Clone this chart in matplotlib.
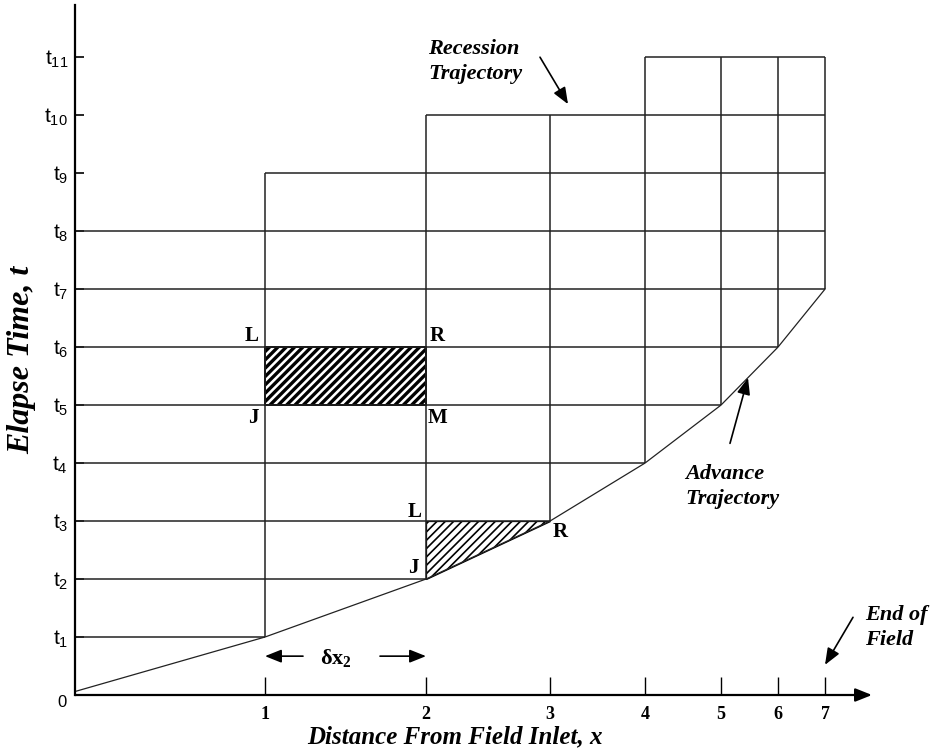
import matplotlib
matplotlib.use("Agg")
import matplotlib.pyplot as plt

# distance stations (tick positions) and their labels
x_pos = [0, 1.90, 3.51, 4.75, 5.70, 6.46, 7.03, 7.50]
x_labels = ["1", "2", "3", "4", "5", "6", "7"]
t_levels = list(range(1, 12))
t_labels = ["$\\mathregular{t_{%d}}$" % k for k in t_levels]

# advance trajectory: time when water reaches each station
adv_t = [0.06, 1, 2, 3, 4, 5, 6, 7]

# grid: each time line runs between two stations (index into x_pos)
row_start = [0, 0, 0, 0, 0, 0, 0, 0, 1, 2, 4]
row_end = [1, 2, 3, 4, 5, 6, 7, 7, 7, 7, 7]
# each station line runs from advance time up to recession time
col_top = [9, 10, 10, 11, 11, 11, 11]

serif = "Liberation Serif"
sans = "Liberation Sans"

fig = plt.figure(figsize=(9.42, 7.51), dpi=100)
ax = fig.add_axes([75 / 942, 56 / 751, 800 / 942, 690 / 751])
ax.set_xlim(0, 8.0)
ax.set_ylim(0, 11.9)

lc = "#222222"
for k, t in enumerate(t_levels):
    ax.hlines(t, x_pos[row_start[k]], x_pos[row_end[k]], color=lc, lw=1.1)
for k in range(1, 8):
    ax.vlines(x_pos[k], adv_t[k], col_top[k - 1], color=lc, lw=1.1)

ax.plot(x_pos, adv_t, color=lc, lw=0.9)

# hatched cells
rect = ax.fill([x_pos[1], x_pos[2], x_pos[2], x_pos[1]], [5, 5, 6, 6],
               facecolor="white", edgecolor="black", hatch="////", lw=1.4)[0]
tri = ax.fill([x_pos[2], x_pos[2], x_pos[3]], [2, 3, 3],
              facecolor="white", edgecolor="black", hatch="////", lw=0.9)[0]
if hasattr(rect, "set_hatch_linewidth"):
    rect.set_hatch_linewidth(2.4)
    tri.set_hatch_linewidth(1.2)

# axes styling
for s in ["top", "right", "bottom"]:
    ax.spines[s].set_visible(False)
ax.spines["left"].set_linewidth(1.6)
ax.annotate("", xy=(7.97, 0), xytext=(0, 0), annotation_clip=False,
            arrowprops=dict(arrowstyle="-|>,head_length=1.0,head_width=0.4",
                            lw=1.6, color="black", shrinkA=0, shrinkB=0))

ax.set_xticks(x_pos[1:])
ax.set_xticklabels(x_labels, fontfamily=serif, fontweight="bold", fontsize=13)
ax.tick_params(axis="x", direction="in", length=13, width=1, pad=8)
ax.set_yticks(t_levels)
ax.set_yticklabels(t_labels, fontfamily=sans, fontsize=15)
ax.tick_params(axis="y", direction="in", length=6.5, width=1.2, pad=5)
ax.annotate("0", xy=(0, 0), xytext=(-9, -5.5), textcoords="offset points",
            ha="center", va="center", fontfamily=sans, fontsize=12)

ax.set_xlabel("Distance From Field Inlet, x", fontfamily=serif,
              fontweight="bold", fontstyle="italic", fontsize=18)
ax.xaxis.set_label_coords(0.475, -0.061)
ax.xaxis.label.set_va("center")
ax.set_ylabel("Elapse Time, t", fontfamily=serif, fontweight="bold",
              fontstyle="italic", fontsize=23)
ax.yaxis.set_label_coords(-53 / 800, (695 - 360) / 690)
ax.yaxis.label.set_va("center")

# corner letters
lab = dict(fontfamily=serif, fontweight="bold", fontsize=15,
           ha="center", va="center")
ax.text(x_pos[1] - 0.13, 6.19, "L", **lab)
ax.text(x_pos[2] + 0.11, 6.19, "R", **lab)
ax.text(x_pos[1] - 0.12, 4.78, "J", **lab)
ax.text(x_pos[2] + 0.12, 4.78, "M", **lab)
ax.text(x_pos[2] - 0.11, 3.16, "L", **lab)
ax.text(x_pos[2] - 0.13, 2.19, "J", **lab)
ax.text(x_pos[3] + 0.10, 2.81, "R", **lab)

# dx arrows
arr = dict(arrowstyle="-|>,head_length=1.0,head_width=0.4", lw=1.2,
           color="black", shrinkA=0, shrinkB=0)
ax.annotate("", xy=(x_pos[1], 0.67), xytext=(2.28, 0.67), arrowprops=arr)
ax.annotate("", xy=(x_pos[2], 0.67), xytext=(3.05, 0.67), arrowprops=arr)
ax.text(2.61, 0.64, "$\\mathregular{\u03b4x_2}$", fontfamily=serif,
        fontweight="bold", fontsize=16, ha="center", va="center")

note = dict(fontfamily=serif, fontweight="bold", fontstyle="italic",
            fontsize=16, ha="left", va="center", linespacing=1.35)
ax.text(3.53, 10.92, "Recession\nTrajectory", **note)
ax.annotate("", xy=(4.93, 10.19), xytext=(4.65, 11.0), arrowprops=arr)
ax.text(6.10, 3.59, "Advance\nTrajectory", **note)
ax.annotate("", xy=(6.73, 5.47), xytext=(6.55, 4.34), arrowprops=arr)
ax.text(7.90, 1.17, "End of\nField", clip_on=False, **note)
ax.annotate("", xy=(7.50, 0.52), xytext=(7.78, 1.34), arrowprops=arr,
            annotation_clip=False)

fig.savefig("out.png", dpi=100)
